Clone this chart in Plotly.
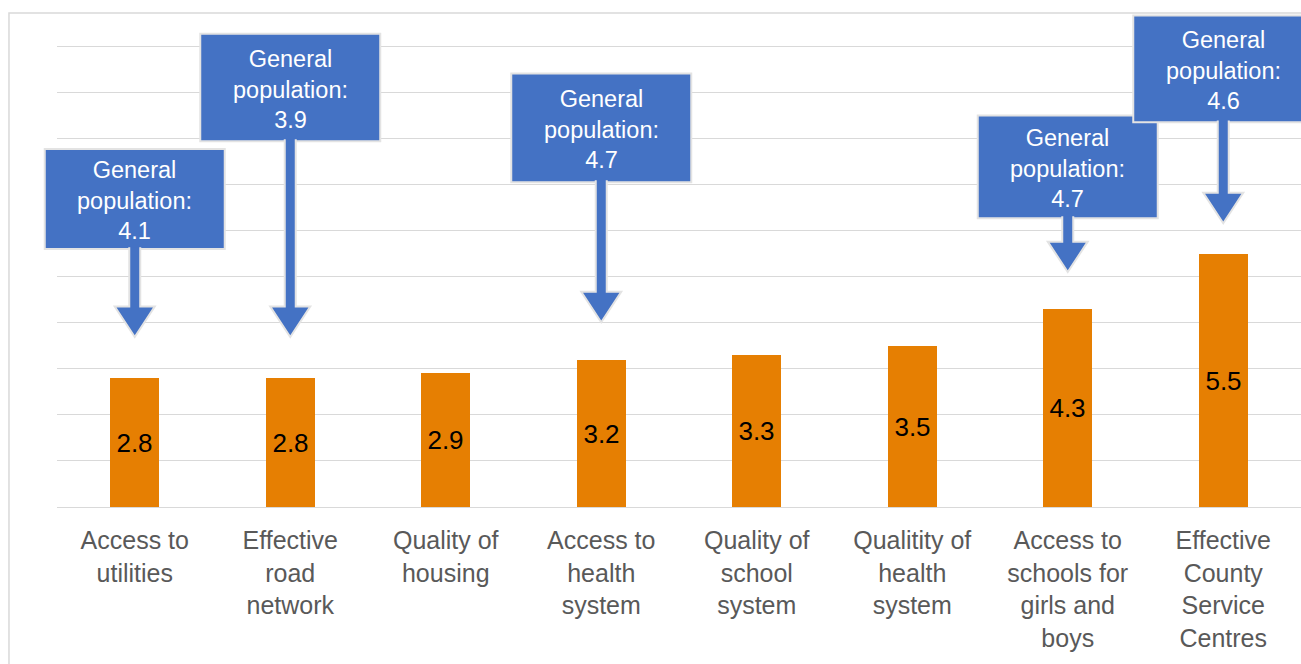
import plotly.graph_objects as go

# Ratings by service area
categories = [
    "Access to<br>utilities",
    "Effective<br>road<br>network",
    "Quality of<br>housing",
    "Access to<br>health<br>system",
    "Quality of<br>school<br>system",
    "Qualitity of<br>health<br>system",
    "Access to<br>schools for<br>girls and<br>boys",
    "Effective<br>County<br>Service<br>Centres",
]
scores = [2.8, 2.8, 2.9, 3.2, 3.3, 3.5, 4.3, 5.5]

# General-population comparison values (category index -> value)
general_idx = [0, 1, 3, 6, 7]
general_vals = [4.1, 3.9, 4.7, 4.7, 4.6]

# Callout placement in y-axis units: arrow tip, box bottom, box top
callout_tip = [3.69, 3.69, 4.01, 5.10, 6.16]
callout_box_bottom = [5.60, 7.94, 7.05, 6.27, 8.35]
callout_box_top = [7.77, 10.27, 9.41, 8.50, 10.67]

# a little headroom so the gridline at 10 is not dropped at the edge
Y_MAX = 10.05
N = len(categories)

ORANGE = "#E67F02"
BLUE = "#4472C4"
EDGE = "#E3E3E3"
GRID = "#D9D9D9"
FONT = "Liberation Sans, Arial, Helvetica, sans-serif"


def px_x(i):
    """Category index -> paper x (centre of the category slot)."""
    return (i + 0.5) / N


def px_y(v):
    """y-axis value -> paper y (axis spans the full plot height)."""
    return v / Y_MAX


x_idx = list(range(N))

fig = go.Figure()
fig.add_trace(go.Bar(
    x=x_idx,
    y=scores,
    width=0.315,
    marker=dict(color=ORANGE, line=dict(width=0)),
    text=[f"{v:.1f}" for v in scores],
    textposition="inside",
    insidetextanchor="middle",
    textangle=0,
    constraintext="none",
    textfont=dict(size=26, color="#000000", family=FONT),
    hoverinfo="skip",
))

shapes = []
annotations = []

# Outer chart frame (left and top edges visible)
shapes.append(dict(
    type="rect", xref="paper", yref="paper",
    x0=-0.0386, x1=1.05, y0=-0.5, y1=1.0670,
    line=dict(color=GRID, width=1.5), fillcolor="rgba(0,0,0,0)", layer="below",
))

HALF_BOX = 90
STEM = 5.5
HEAD = 20
HEAD_H = 0.66  # head height in y units

for i, (cat, val) in enumerate(zip(general_idx, general_vals)):
    tip = callout_tip[i]
    bottom = callout_box_bottom[i]
    top = callout_box_top[i]
    xa = px_x(cat)
    # callout box
    shapes.append(dict(
        type="rect", xref="paper", yref="paper",
        xsizemode="pixel", xanchor=xa,
        x0=-HALF_BOX, x1=HALF_BOX, y0=px_y(bottom), y1=px_y(top),
        fillcolor=BLUE, line=dict(color=EDGE, width=2), layer="above",
    ))
    # downward arrow from box to bar
    hb = px_y(tip + HEAD_H)
    st = px_y(bottom + 0.04)
    tp = px_y(tip)
    path = (f"M {-STEM},{st} L {-STEM},{hb} L {-HEAD},{hb} L 0,{tp} "
            f"L {HEAD},{hb} L {STEM},{hb} L {STEM},{st}")
    shapes.append(dict(
        type="path", xref="paper", yref="paper",
        xsizemode="pixel", xanchor=xa,
        path=path, fillcolor=BLUE, line=dict(color=EDGE, width=2), layer="above",
    ))
    annotations.append(dict(
        x=xa, y=px_y((bottom + top) / 2 - 0.04), xref="paper", yref="paper",
        text=f"General<br>population:<br>{val}",
        showarrow=False, xanchor="center", yanchor="middle",
        font=dict(size=23.5, color="#FFFFFF", family=FONT),
    ))

fig.update_layout(
    width=1301, height=664,
    margin=dict(l=57, r=0, t=44, b=157),
    paper_bgcolor="#FFFFFF", plot_bgcolor="#FFFFFF",
    showlegend=False,
    shapes=shapes,
    annotations=annotations,
    xaxis=dict(
        range=[-0.5, N - 0.5],
        tickmode="array", tickvals=x_idx, ticktext=categories,
        showgrid=False, zeroline=False,
        showline=True, linecolor=GRID, linewidth=1,
        ticks="", tickfont=dict(size=25, color="#595959", family=FONT),
        ticklabelstandoff=11,
    ),
    yaxis=dict(
        range=[0, Y_MAX], dtick=1, tick0=0,
        showgrid=True, gridcolor=GRID, gridwidth=1,
        zeroline=False, showticklabels=False, ticks="",
    ),
    bargap=0,
)

fig.write_html("out.html")
